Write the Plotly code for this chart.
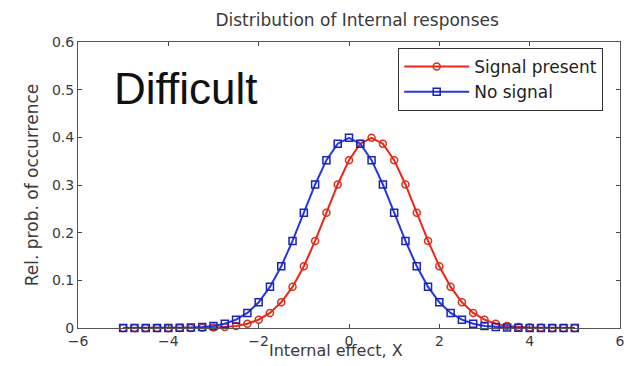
import plotly.graph_objects as go

x_values = [-5.0, -4.75, -4.5, -4.25, -4.0, -3.75, -3.5, -3.25, -3.0, -2.75, -2.5,
            -2.25, -2.0, -1.75, -1.5, -1.25, -1.0, -0.75, -0.5, -0.25, 0.0,
            0.25, 0.5, 0.75, 1.0, 1.25, 1.5, 1.75, 2.0, 2.25, 2.5,
            2.75, 3.0, 3.25, 3.5, 3.75, 4.0, 4.25, 4.5, 4.75, 5.0]

signal_present = [0.0, 0.0, 0.0, 0.0, 0.0, 0.0, 0.0001, 0.0004, 0.0009, 0.002, 0.0044,
                  0.0091, 0.0175, 0.0317, 0.054, 0.0863, 0.1295, 0.1826, 0.242, 0.3011, 0.3521,
                  0.3867, 0.3989, 0.3867, 0.3521, 0.3011, 0.242, 0.1826, 0.1295, 0.0863, 0.054,
                  0.0317, 0.0175, 0.0091, 0.0044, 0.002, 0.0009, 0.0004, 0.0001, 0.0, 0.0]

no_signal = [0.0, 0.0, 0.0, 0.0, 0.0001, 0.0004, 0.0009, 0.002, 0.0044, 0.0091, 0.0175,
             0.0317, 0.054, 0.0863, 0.1295, 0.1826, 0.242, 0.3011, 0.3521, 0.3867, 0.3989,
             0.3867, 0.3521, 0.3011, 0.242, 0.1826, 0.1295, 0.0863, 0.054, 0.0317, 0.0175,
             0.0091, 0.0044, 0.002, 0.0009, 0.0004, 0.0001, 0.0, 0.0, 0.0, 0.0]

x_ticks = [-6, -4, -2, 0, 2, 4, 6]
y_ticks = [0, 0.1, 0.2, 0.3, 0.4, 0.5, 0.6]
y_tick_text = ["0", "0.1", "0.2", "0.3", "0.4", "0.5", "0.6"]

RED = "#ee2418"
BLUE = "#2238e0"
TXT = "#3a3a3a"
FONT = "DejaVu Sans"

fig = go.Figure()
fig.add_trace(go.Scatter(
    x=x_values, y=signal_present, name="Signal present", mode="lines+markers",
    line=dict(color=RED, width=2),
    marker=dict(symbol="circle-open", size=7, color="#d8301a", line=dict(width=1.5)),
    cliponaxis=False,
))
fig.add_trace(go.Scatter(
    x=x_values, y=no_signal, name="No signal", mode="lines+markers",
    line=dict(color=BLUE, width=2),
    marker=dict(symbol="square-open", size=7, color="#1a22b8", line=dict(width=1.5)),
    cliponaxis=False,
))

axis_common = dict(
    showline=True, linecolor="#555555", linewidth=1, mirror="ticks",
    ticks="inside", ticklen=4, tickcolor="#444444", showgrid=False, zeroline=False,
    tickfont=dict(family=FONT, size=14, color=TXT),
)

fig.update_layout(
    width=630, height=366,
    margin=dict(l=78, r=5, t=42, b=38),
    paper_bgcolor="white", plot_bgcolor="white",
    title=dict(text="Distribution of Internal responses", x=0.515, xref="paper",
               y=1 - 20 / 366, yref="container", xanchor="center", yanchor="middle",
               font=dict(family=FONT, size=17, color=TXT)),
    xaxis=dict(range=[-6, 6], tickvals=x_ticks, **axis_common),
    yaxis=dict(range=[0, 0.6], tickvals=y_ticks, ticktext=y_tick_text,
               title=dict(text="Rel. prob. of occurrence", standoff=8,
                          font=dict(family=FONT, size=17, color=TXT)),
               **axis_common),
    legend=dict(x=0.969, y=0.979, xanchor="right", yanchor="top",
                bgcolor="white", bordercolor="#333333", borderwidth=1,
                font=dict(family=FONT, size=17, color="#222222"),
                itemwidth=65, tracegroupgap=0),
    showlegend=True,
    annotations=[
        dict(text="Difficult", xref="paper", yref="paper",
             x=0.062, y=0.839, xanchor="left", yanchor="middle", showarrow=False,
             font=dict(family="Liberation Sans", size=44, color="#111111")),
        dict(text="Internal effect, X", xref="paper", yref="paper",
             x=0.476, y=0, xanchor="center", yanchor="middle", yshift=-22,
             showarrow=False, font=dict(family=FONT, size=16, color=TXT)),
    ],
)

fig.write_html("out.html", config={"displayModeBar": False},
               post_script="document.body.style.margin='0';")
